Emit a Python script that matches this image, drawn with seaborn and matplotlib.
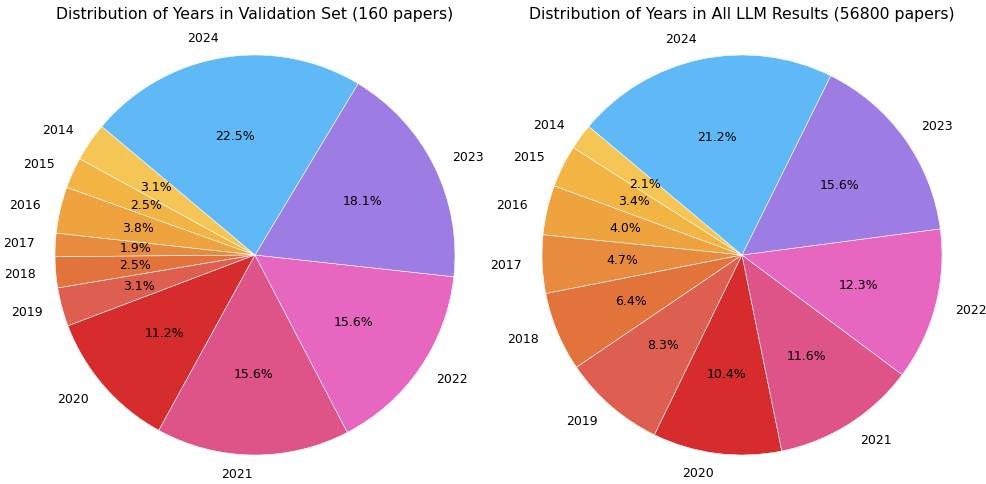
import matplotlib
matplotlib.use("Agg")
import matplotlib.pyplot as plt
import seaborn as sns

sns.set_style("white")
plt.rcParams["text.color"] = "black"

# years and counts
years = ["2014", "2015", "2016", "2017", "2018", "2019", "2020", "2021", "2022", "2023", "2024"]
val_counts = [5, 4, 6, 3, 4, 5, 18, 25, 25, 29, 36]
all_counts = [1193, 1931, 2272, 2670, 3635, 4714, 5907, 6589, 6986, 8861, 12042]

year_colors = sns.color_palette([
    "#F5C452", "#F2B33F", "#EFA13B", "#E8893A", "#E27137", "#DE5B4B",
    "#D62728", "#DE5086", "#E763BF", "#9B7AE3", "#5CB8F6",
])

fig = plt.figure(figsize=(9.87, 4.84), dpi=100)
W, H = 987, 484
lim = 1.14
size = 456

panels = [
    (255, val_counts, "Distribution of Years in Validation Set (160 papers)"),
    (742, all_counts, "Distribution of Years in All LLM Results (56800 papers)"),
]

for cx, counts, title in panels:
    ax = fig.add_axes([(cx - size / 2) / W, (229 - size / 2) / H, size / W, size / H])
    ax.pie(counts, labels=years, colors=year_colors, autopct="%1.1f%%",
           startangle=140, textprops={"fontsize": 9, "color": "black"},
           wedgeprops={"edgecolor": "white", "linewidth": 0.4, "alpha": 0.98})
    ax.set_xlim(-lim, lim)
    ax.set_ylim(-lim, lim)
    ax.set_aspect("equal")
    ax.set_title(title, fontsize=11.3, pad=6)

fig.savefig("out.png", dpi=100)
